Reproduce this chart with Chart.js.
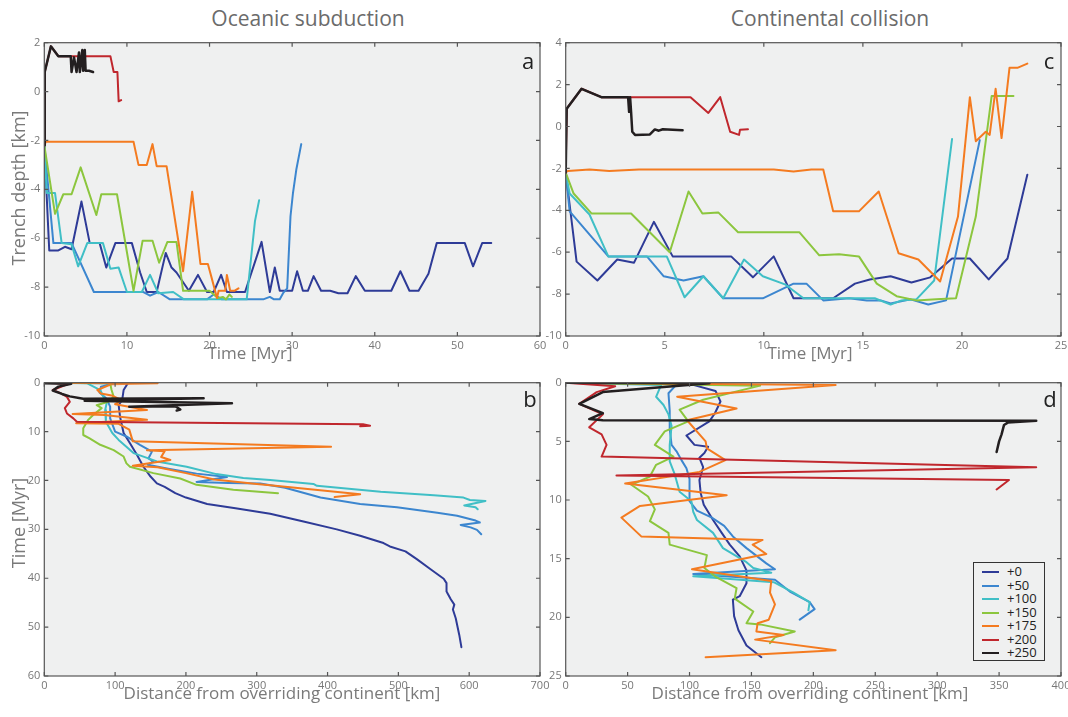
<!DOCTYPE html>
<html>
<head>
<meta charset="utf-8">
<script src="https://cdn.jsdelivr.net/npm/chart.js@4.4.0/dist/chart.umd.min.js"></script>
<style>
  body { margin: 0; width: 1068px; height: 717px; position: relative; overflow: hidden; background: #fff; font-family: 'Open Sans', sans-serif; }
  canvas { position: absolute; }
  .txt { position: absolute; white-space: nowrap; transform: translate(-50%, -50%); }
  .title { font-size: 21px; color: #6b6b6b; }
  .axis { font-size: 17px; color: #7a7a7a; }
  .rot { transform: translate(-50%, -50%) rotate(-90deg); font-size: 18px; }
  .letter { font-size: 22px; color: #222; }
  #legend { position: absolute; left: 973px; top: 562px; width: 72px; height: 99px; border: 1px solid #333; background: #eff0f0; box-sizing: border-box; padding-top: 2px; }
  #legend div { height: 13.5px; font-size: 13px; line-height: 13.5px; color: #222; position: relative; padding-left: 33px; }
  #legend span { position: absolute; left: 8px; top: 6px; width: 17px; height: 2px; }
</style>
</head>
<body>

<div class="txt title" style="left:308px;top:18px">Oceanic subduction</div>
<div class="txt title" style="left:830px;top:18px">Continental collision</div>

<canvas id="chartA" width="560" height="330" style="left:0;top:30px"></canvas>
<canvas id="chartC" width="560" height="330" style="left:520px;top:30px"></canvas>
<canvas id="chartB" width="560" height="330" style="left:0;top:370px"></canvas>
<canvas id="chartD" width="560" height="330" style="left:520px;top:370px"></canvas>

<div class="txt axis rot" style="left:18px;top:188px">Trench depth [km]</div>
<div class="txt axis" style="left:250px;top:352px">Time [Myr]</div>
<div class="txt axis" style="left:810px;top:352px">Time [Myr]</div>
<div class="txt axis rot" style="left:18px;top:523px">Time [Myr]</div>
<div class="txt axis" style="left:282px;top:692px">Distance from overriding continent [km]</div>
<div class="txt axis" style="left:810px;top:692px">Distance from overriding continent [km]</div>

<div class="txt letter" style="left:528px;top:60px">a</div>
<div class="txt letter" style="left:530px;top:398px">b</div>
<div class="txt letter" style="left:1049px;top:60px">c</div>
<div class="txt letter" style="left:1050px;top:398px">d</div>

<div id="legend"></div>

<script>
// ---- legend labels / colours ----
const offsets = ['+0', '+50', '+100', '+150', '+175', '+200', '+250'];
const lineColors = ['#2e3b97', '#3c86cf', '#40bfc6', '#8cc63e', '#f47b20', '#c0272d', '#231f20'];

// ---- (a) oceanic subduction: [time Myr, trench depth km] ----
const subA0 = [[0,-2.2],[0.6,-6.5],[1.7,-6.5],[2.5,-6.35],[3.3,-6.45],[4.5,-4.5],[5.5,-6.2],[6.7,-6.2],[7.5,-7.2],[8.6,-6.2],[10.6,-6.2],[11.6,-7.4],[12.4,-8.2],[13.6,-8.2],[14.7,-6.6],[15.4,-7.2],[16,-7.4],[17.5,-8.15],[18.6,-7.5],[19.7,-8.2],[20.5,-8.2],[21.4,-7.5],[22.1,-8.2],[24.3,-8.2],[26.3,-6.15],[27.3,-8.2],[27.9,-7.2],[28.5,-8.15],[30,-8.15],[30.6,-7.35],[31.3,-8.15],[31.9,-8.15],[32.6,-7.55],[33.5,-8.15],[34.6,-8.15],[35.6,-8.25],[36.7,-8.25],[37.7,-7.55],[38.8,-8.15],[42,-8.15],[43.1,-7.35],[44.2,-8.15],[45.3,-8.15],[46.5,-7.45],[47.5,-6.2],[50.9,-6.2],[51.9,-7.15],[53,-6.2],[54.1,-6.2]];
const subA50 = [[0,-2.2],[0.5,-4],[1.1,-6.2],[3.3,-6.2],[6,-8.2],[12,-8.2],[12.8,-8.35],[13.8,-8.2],[15.2,-8.5],[19.7,-8.5],[20.5,-8.3],[21.5,-8.5],[26.5,-8.5],[27.3,-8.4],[27.8,-8.5],[28.5,-8.5],[28.9,-8.25],[29.4,-8.05],[29.8,-5.1],[30.1,-4.15],[30.5,-3.2],[31.1,-2.15]];
const subA100 = [[0,-2.2],[0.3,-4.15],[1.3,-4.15],[2.1,-6.2],[3.3,-6.25],[4.1,-7.15],[5.2,-6.2],[7.1,-6.2],[8,-7.25],[9,-7.2],[10,-8.2],[11.8,-8.2],[12.8,-7.5],[13.8,-8.25],[15.6,-8.2],[16.9,-8.5],[24.5,-8.5],[25.5,-5.3],[26,-4.45]];
const subA150 = [[0,-2.2],[1.3,-5],[2.3,-4.2],[3.3,-4.2],[4.4,-3.1],[6.3,-5.05],[6.9,-4.2],[8.8,-4.2],[10.8,-8.15],[11.9,-6.1],[13.1,-6.1],[13.9,-7],[14.9,-6.15],[16,-6.15],[16.8,-8.15],[20,-8.15],[21,-8.45],[21.6,-8.4],[22,-8.5],[22.4,-8.3],[22.7,-8.4]];
const subA175 = [[0,-2.2],[0.2,-2.05],[10.8,-2.05],[11.4,-3],[12.4,-3],[13.1,-2.15],[13.6,-3.05],[14.8,-3.05],[16.8,-7.35],[17.9,-4.1],[18.9,-7.05],[19.8,-7.05],[20.2,-7.55],[20.9,-8.45],[21.1,-8.15],[21.9,-8.15],[22.1,-7.5],[22.5,-8.15],[23,-8.15],[23.5,-8.05]];
const subA200 = [[0,-2.2],[0.05,0.8],[0.8,1.85],[1.7,1.45],[8,1.45],[8.4,0.8],[8.85,0.8],[9,-0.4],[9.3,-0.35]];
const subA250 = [[0,-2.2],[0.05,0.8],[0.8,1.85],[1.7,1.45],[3.2,1.45],[3.3,0.8],[3.6,1.4],[3.9,0.8],[4.2,1.6],[4.3,0.8],[4.6,1.7],[4.7,0.85],[4.9,1.7],[5,0.85],[5.4,0.85],[5.9,0.8]];

// ---- (c) continental collision: [time Myr, trench depth km] ----
const colC0 = [[0,-2.2],[0.55,-6.45],[1.6,-7.35],[2.6,-6.35],[3.45,-6.5],[4.45,-4.55],[5.4,-6.2],[8.35,-6.2],[9.45,-7.2],[10.5,-6.2],[11.5,-8.2],[13.5,-8.2],[14.6,-7.5],[15.35,-7.3],[16.4,-7.15],[17.45,-7.45],[18.4,-7.2],[19.5,-6.3],[20.4,-6.3],[21.35,-7.3],[22.3,-6.3],[23.3,-2.3]];
const colC50 = [[0,-2.2],[0.2,-4.05],[2.15,-6.2],[4.1,-6.2],[4.95,-7.15],[5.95,-7.35],[6.95,-7.15],[7.95,-8.2],[9.95,-8.2],[11.5,-7.5],[12.15,-7.5],[13,-8.3],[14.3,-8.2],[15.2,-8.3],[15.9,-8.3],[16.4,-8.45],[17.4,-8.25],[18.3,-8.5],[19.2,-8.3],[20.9,-0.65]];
const colC100 = [[0,-2.2],[0.2,-3.2],[1.2,-4.2],[2.15,-6.2],[5.1,-6.2],[6,-8.15],[6.95,-7.15],[7.95,-8.2],[9,-6.35],[9.95,-7.15],[11.1,-7.55],[12,-8.2],[15.6,-8.2],[16.4,-8.5],[16.95,-8.3],[17.7,-8.25],[18.6,-7.35],[19.5,-0.6]];
const colC150 = [[0,-2.2],[0.4,-3.2],[1.3,-4.15],[3.3,-4.15],[5.25,-6],[6.2,-3.1],[6.9,-4.15],[7.7,-4.1],[8.7,-5.05],[11.8,-5.05],[12.8,-6.15],[13.8,-6.1],[14.8,-6.2],[15.7,-7.5],[16.7,-8.1],[17.7,-8.3],[18.7,-8.25],[19.7,-8.2],[20.7,-4.3],[21.5,1.45],[22.6,1.45]];
const colC175 = [[0,-2.2],[0.1,-2.12],[1.2,-2.05],[2.2,-2.12],[3.7,-2.05],[10.5,-2.05],[11.5,-2.15],[12.4,-2.05],[13,-2.05],[13.5,-4.05],[14.8,-4.05],[15.8,-3.1],[16.8,-6.05],[17.8,-6.35],[18.9,-7.4],[19.8,-4.3],[20.4,1.4],[20.7,-0.7],[21.2,-0.25],[21.4,-0.4],[21.7,1.8],[22,-0.55],[22.4,2.8],[22.8,2.8],[23.3,3]];
const colC200 = [[0,-2.2],[0.05,0.85],[0.8,1.8],[1.8,1.4],[6.3,1.4],[7.2,0.65],[7.8,1.4],[8.3,-0.25],[8.75,-0.4],[8.8,-0.15],[9.2,-0.13]];
const colC250 = [[0,-2.2],[0.05,0.85],[0.8,1.8],[1.8,1.4],[3.15,1.4],[3.2,0.7],[3.25,1.4],[3.3,0.7],[3.36,-0.25],[3.5,-0.4],[4.25,-0.38],[4.5,-0.14],[4.7,-0.2],[4.9,-0.13],[5.4,-0.15],[5.9,-0.18]];

// ---- (b) oceanic subduction: [distance km, time Myr] ----
const subB0 = [[0,0],[118,0.1],[112,1.5],[110,3.5],[105,4.6],[107,7],[112,10.3],[121,12.4],[131,14.8],[140,17.2],[150,19.2],[159,20.6],[170,21.3],[185,22.6],[200,23.5],[230,24.8],[270,25.7],[319,26.8],[366,28.4],[413,30],[446,31.3],[479,32.8],[488,33.5],[510,34.5],[526,36.1],[545,38.1],[564,40.1],[568,41],[568,42.7],[574,44.3],[579,45.4],[577,46.4],[581,48.2],[586,51.6],[589,54.1]];
const subB50 = [[0,0],[100,0.1],[80,0.8],[78,2],[88,3.3],[93,4.9],[93,7.3],[100,10],[116,11],[135,12.7],[152,14.1],[147,15.5],[154,16.1],[146,16.8],[175,17.6],[215,18.6],[258,19.3],[215,20.3],[260,20.5],[305,20.6],[340,21.5],[390,23.5],[446,24.8],[498,25.5],[555,26.6],[583,27.2],[609,28.2],[615,28.6],[588,29.1],[602,29.6],[611,30.1],[617,31]];
const subB100 = [[0,0],[60,0.1],[79,1.5],[88,4.2],[86,5.6],[87,8],[96,10.3],[105,11.7],[126,14.4],[159,16.1],[201,17.2],[243,18.7],[281,19.5],[319,19.9],[380,20.7],[385,21.1],[475,22.3],[550,23],[592,23.5],[601,24],[623,24.2],[593,25.1],[609,25.5],[612,25.9]];
const subB150 = [[0,0],[93,0.1],[95,1.5],[98,2.9],[90,3.9],[74,4.6],[81,5.2],[69,6.6],[62,7.6],[55,9.3],[55,10.7],[64,11.4],[79,12.7],[98,13.8],[112,15.1],[116,16.5],[121,17.2],[154,18.5],[192,19.6],[215,20.9],[267,21.9],[330,22.6]];
const subB175 = [[0,0],[160,0.1],[95,0.3],[75,1.5],[80,2.2],[95,2.6],[110,3.6],[100,4.4],[145,5.6],[40,6.4],[85,6.6],[145,7.6],[45,8.3],[105,8.4],[120,9.6],[125,12],[405,13.1],[145,13.8],[170,14],[165,15.2],[178,15.8],[125,17],[160,17.3],[200,18.5],[240,19.8],[300,20.7],[319,21],[446,22.8],[410,23.4]];
const subB200 = [[0,0],[35,0.2],[12,1.5],[25,2.3],[32,2.9],[36,3.9],[29,5.2],[32,6.3],[41,7.3],[46,8],[450,8.5],[460,8.8],[446,8.9]];
const subB250 = [[0,0.1],[38,0.2],[20,0.8],[12,1.6],[25,2.3],[36,2.8],[55,3.3],[225,3.2],[57,3.7],[265,4.2],[120,4.9],[185,4.8],[192,5.5],[187,5.7]];

// ---- (d) continental collision: [distance km, time Myr] ----
const colD0 = [[0,0],[100,0.1],[121,0.7],[125,1.6],[120.5,2.6],[116,3.3],[97.5,4.5],[104,5.3],[115,5.45],[112,6],[108,6.4],[111,7.2],[108,8.3],[109,9.4],[111.5,10.4],[119,11.7],[126,12.8],[132.5,13.8],[140.5,14.8],[146,16],[146,17.1],[140.5,18.2],[135,18.5],[136,19.9],[139.5,21.1],[146,22.4],[158,23.4]];
const colD50 = [[0,0],[90,0.1],[83,0.9],[84,2.4],[84,3.9],[85.5,5.3],[89.5,5.85],[93.5,6.6],[97.5,7.3],[100,8.2],[100,10.1],[106,10.9],[118,11.5],[128,12.2],[135,13.1],[146,14.1],[162,15.4],[169,15.9],[103,16.3],[169,16.8],[181,17.8],[197,18.7],[201,19.3],[189,20.2]];
const colD100 = [[0,0],[77,0.2],[73,1.2],[79,1.9],[83,2.7],[85.5,3.7],[84,5.3],[84,6.7],[88,7.8],[92,9.3],[101.5,10.1],[103,11],[106,11.7],[119,12.8],[127,14.1],[136.5,14.7],[146,15.3],[151.5,15.8],[166,16.2],[103,16.5],[168,17],[184,17.9],[197,18.7],[196,19.4]];
const colD150 = [[0,0],[157,0.25],[111,1.45],[92,2.3],[99,3.3],[80,4.15],[72,5.3],[87,6.3],[73,7],[68,8],[53,8.7],[66.5,9.7],[72,10.8],[68,11.8],[83,12.8],[84,13.8],[114,14.7],[112,15.8],[122,16.6],[138,17.5],[136.5,18.4],[151.5,19.5],[146,20.5],[157,20.6],[185,21.2],[169,21.7],[165,22.2]];
const colD175 = [[0,0],[218,0.2],[90,1.2],[138,2.2],[98,3.2],[113,5],[114,5.6],[129,6.6],[108,7.6],[48,8.6],[130,9.6],[60,10.5],[45,11.5],[61,13.1],[159,13.4],[151,13.8],[162,14.6],[102,15.9],[166,16.9],[165,17.9],[169,18.9],[164,20.2],[155,20.5],[154,21.2],[176,21.5],[153,21.9],[218,22.8],[113,23.4]];
const colD200 = [[0,0],[40,0.3],[25,0.8],[11,1.8],[30,2.7],[19,3.8],[29,4.4],[33,5.3],[29,6.3],[380,7.2],[41,7.9],[358,8.3],[348,9.1]];
const colD250 = [[0,0],[116,0.05],[30,0.8],[11,1.8],[30,2.6],[19,3.1],[30,3.2],[380,3.24],[357,3.4],[354,3.6],[352,4.4],[350,5],[348,5.9]];

// ------- fundo cinza, moldura e ticks para dentro -------
const paperFrame = {
  id: 'paperFrame',
  beforeDraw(chart) {
    const a = chart.chartArea, ctx = chart.ctx;
    ctx.save();
    ctx.fillStyle = '#eff0f0';
    ctx.fillRect(a.left, a.top, a.right - a.left, a.bottom - a.top);
    ctx.restore();
  },
  afterDraw(chart) {
    const a = chart.chartArea, ctx = chart.ctx;
    const sx = chart.scales.x, sy = chart.scales.y;
    ctx.save();
    ctx.strokeStyle = '#555';
    ctx.lineWidth = 1.2;
    ctx.beginPath();
    sx.ticks.forEach(t => {
      const p = sx.getPixelForValue(t.value);
      ctx.moveTo(p, a.bottom); ctx.lineTo(p, a.bottom - 4);
      ctx.moveTo(p, a.top); ctx.lineTo(p, a.top + 4);
    });
    sy.ticks.forEach(t => {
      const p = sy.getPixelForValue(t.value);
      ctx.moveTo(a.left, p); ctx.lineTo(a.left + 4, p);
      ctx.moveTo(a.right, p); ctx.lineTo(a.right - 4, p);
    });
    ctx.stroke();
    ctx.strokeRect(a.left, a.top, a.right - a.left, a.bottom - a.top);
    ctx.restore();
  }
};

function tickFont() {
  return { family: "'Open Sans', sans-serif", size: 11 };
}

function makePanel(id, seriesList, xr, yr, leftW, padR) {
  const datasets = seriesList.map((s, i) => ({
    label: offsets[i],
    data: s.map(p => ({ x: p[0], y: p[1] })),
    showLine: true,
    borderColor: lineColors[i],
    backgroundColor: lineColors[i],
    borderWidth: i === 6 ? 2.5 : 2,
    pointRadius: 0,
    order: seriesList.length - i
  }));
  return new Chart(document.getElementById(id), {
    type: 'scatter',
    data: { datasets: datasets },
    options: {
      responsive: false,
      animation: false,
      layout: { padding: { top: 12.7, right: padR, bottom: 0, left: 0 } },
      plugins: { legend: { display: false }, tooltip: { enabled: false } },
      elements: { line: { tension: 0, borderJoinStyle: 'round', borderCapStyle: 'round' } },
      scales: {
        x: {
          type: 'linear', min: xr[0], max: xr[1],
          grid: { display: false, drawTicks: false }, border: { display: false },
          ticks: { stepSize: xr[2], color: '#777', font: tickFont(), padding: 3, maxRotation: 0, autoSkip: false },
          afterFit(s) { s.height = 24; }
        },
        y: {
          type: 'linear', min: yr[0], max: yr[1], reverse: !!yr[3],
          grid: { display: false, drawTicks: false }, border: { display: false },
          ticks: { stepSize: yr[2], color: '#777', font: tickFont(), padding: 4, autoSkip: false },
          afterFit(s) { s.width = leftW; }
        }
      }
    },
    plugins: [paperFrame]
  });
}

makePanel('chartA', [subA0, subA50, subA100, subA150, subA175, subA200, subA250], [0, 60, 10], [-10, 2, 2], 44.3, 20);
makePanel('chartC', [colC0, colC50, colC100, colC150, colC175, colC200, colC250], [0, 25, 5], [-10, 4, 2], 45.7, 19);
makePanel('chartB', [subB0, subB50, subB100, subB150, subB175, subB200, subB250], [0, 700, 100], [0, 60, 10, true], 44.3, 20);
makePanel('chartD', [colD0, colD50, colD100, colD150, colD175, colD200, colD250], [0, 400, 50], [0, 25, 5, true], 45.7, 19);

// ------- legenda -------
const leg = document.getElementById('legend');
offsets.forEach((o, i) => {
  const row = document.createElement('div');
  row.textContent = o;
  const sw = document.createElement('span');
  sw.style.background = lineColors[i];
  row.appendChild(sw);
  leg.appendChild(row);
});
</script>
</body>
</html>
